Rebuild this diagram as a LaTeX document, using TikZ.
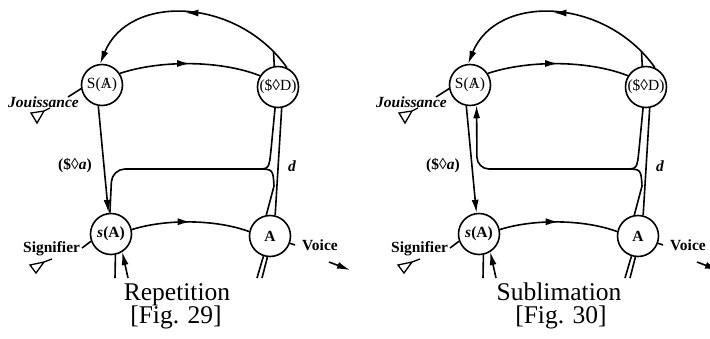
\documentclass[tikz,border=0pt]{standalone}
\usepackage{fontspec}
\setmainfont{Liberation Serif}
\usetikzlibrary{arrows.meta,decorations.markings}

% barred A, as in S(A/)
\newcommand\barredA{\ooalign{A\cr\hidewidth/\hidewidth}}

\tikzset{
  wire/.style={line width=1.6pt},
  tipend/.style={-{Latex[length=13pt,width=7pt]}},
  midarrow/.style={postaction={decorate},
    decoration={markings,mark=at position #1 with {\arrow{Latex[length=13pt,width=7pt]}}}},
  midarrow/.default=0.5,
  ring/.style={circle,draw,line width=1.6pt,minimum size=41pt,inner sep=0pt},
  intext/.style={font=\fontsize{15.5}{15}\selectfont},
  intextb/.style={font=\fontsize{15.5}{15}\selectfont\bfseries},
  lab/.style={anchor=base west,inner sep=0pt,font=\fontsize{15.5}{16}\selectfont\bfseries},
  labi/.style={lab,font=\fontsize{15.5}{16}\selectfont\bfseries\itshape},
  capt/.style={anchor=base,inner sep=0pt,font=\fontsize{25.5}{26}\selectfont},
  mark tri/.style={line width=1.3pt,line join=miter},
}

% the common part of the graph; #1 is a suffix for the node names
\newcommand\lacangraph[1]{%
  \node[ring,intext]  (SA#1) at (102,85)  {S(\barredA)};
  \node[ring,intext]  (D#1)  at (278,87)  {(\$◊D)};
  \node[ring,intextb] (sA#1) at (111,234) {\textit{s}(A)};
  \node[ring,intextb] (AA#1) at (270,236) {A};
  % upper return loop
  \draw[wire,midarrow=0.53,tipend] (D#1.65) .. controls (236,-4) and (128,-6) .. (SA#1.95);
  \coordinate (tj#1) at (273.5,52.4);
  \draw[wire] (tj#1) -- (D#1.100);
  % upper and lower vectors
  \draw[wire,midarrow] (SA#1.33) .. controls (160,60) and (220,60) .. (D#1.148);
  \draw[wire,midarrow] (sA#1.12) .. controls (165,219) and (215,219) .. (AA#1.168);
  % left descent
  \draw[wire,tipend] (SA#1.260) -- (sA#1.97);
  % right side: fork of the bar
  \coordinate (yj#1) at (257,169);
  \draw[wire] (D#1.262) -- (271,150) .. controls (269,169) .. (yj#1);
  \draw[wire] (yj#1) .. controls (273,169) .. (274,186) -- (AA#1.100);
  \draw[wire] (D#1.280) -- (AA#1.76);
  % stubs below s(A) and A
  \coordinate (sb1#1) at (115,278);
  \coordinate (sb2#1) at (128,278);
  \draw[wire] (sA#1.282) -- (sb1#1);
  \draw[wire,tipend] (sb2#1) -- (sA#1.302);
  \coordinate (ab1#1) at (257,278);
  \coordinate (ab2#1) at (262,278);
  \draw[wire] (AA#1.252) -- (ab1#1);
  \draw[wire] (AA#1.263) -- (ab2#1);
  % Jouissance
  \coordinate (jt#1) at (68,97);
  \draw[wire] (SA#1.190) -- (jt#1);
  \node[labi] (jl#1) at (8,107) {Jouissance};
  \draw[mark tri] (50,108) -- (44,111) -- (31,113) -- (37,123) -- (44,111);
  % Signifier
  \coordinate (st#1) at (82,248);
  \draw[wire] (sA#1.200) -- (st#1);
  \node[lab] (sl#1) at (23,252) {Signifier};
  \draw[mark tri] (52,259) -- (44,262) -- (30,265) -- (36,273) -- (44,262);
  % Voice
  \coordinate (vt#1) at (295,245);
  \draw[wire] (AA#1.340) -- (vt#1);
  \node[lab] (vl#1) at (302,250) {Voice};
  \coordinate (va#1) at (329,262);
  \coordinate (vb#1) at (350,270);
  \draw[wire,tipend] (va#1) -- (vb#1);
  % vector labels
  \node[lab] (al#1) at (58,169) {(\$◊\textit{a})};
  \node[labi] (dl#1) at (288,171) {d};
}

\begin{document}
\begin{tikzpicture}[x=1pt,y=-1pt]
  \useasboundingbox (0,0) rectangle (710,338);

  % Repetition
  \begin{scope}
    \lacangraph{1}
    \draw[wire,rounded corners=13pt] (yj1) -- (112,169) -- (sA1.93);
  \end{scope}
  \node[capt] (cap1) at (177,300) {Repetition};
  \node[capt] (fig1) at (176,323) {[Fig. 29]};

  % Sublimation
  \begin{scope}[xshift=368pt]
    \lacangraph{2}
    \draw[wire,tipend,rounded corners=12pt] (yj2) -- (109,169) -- (SA2.288);
  \end{scope}
  \node[capt] (cap2) at (559,300) {Sublimation};
  \node[capt] (fig2) at (561,323) {[Fig. 30]};
\end{tikzpicture}
\end{document}
